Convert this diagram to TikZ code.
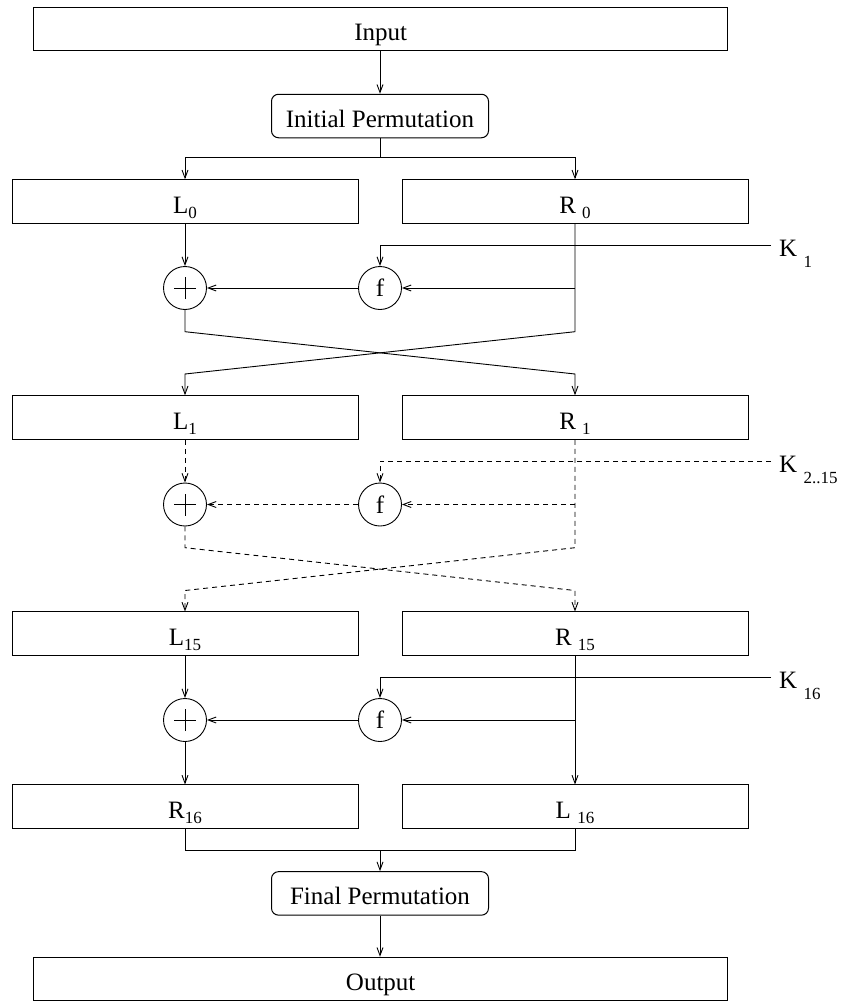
\documentclass[tikz,border=0pt]{standalone}
\usepackage{fontspec}
\setmainfont{Liberation Serif}
\usetikzlibrary{arrows.meta}
% lowered indices: box labels and round keys
\newcommand\lo[1]{\raisebox{-5pt}{\fontsize{17}{17}\selectfont #1}}
\newcommand\klo[1]{\raisebox{-11pt}{\fontsize{17}{17}\selectfont #1}}
\begin{document}
\begin{tikzpicture}[x=1pt,y=-1pt,
  font=\fontsize{25}{30}\selectfont,
  every node/.style={inner sep=0pt},
  wire/.style={line width=0.9pt},
  arr/.style={wire,-{Straight Barb[length=8pt,width=6pt]}},
  wide/.style={draw,line width=1pt,minimum width=694pt,minimum height=43.5pt,text height=25pt,text depth=2pt},
  perm/.style={draw,line width=1pt,rounded corners=7pt,minimum width=217pt,minimum height=43.5pt,text height=25pt,text depth=2pt},
  half/.style={draw,line width=1pt,minimum width=346pt,minimum height=43.5pt,text height=26pt,text depth=2pt},
  op/.style={draw,line width=0.9pt,circle,minimum size=43pt},
  keylab/.style={anchor=base west},
  later/.style={dash pattern=on 5pt off 4pt}
]
\useasboundingbox (0,0) rectangle (841,1001);

% input and initial permutation
\node[wide] (in) at (380.7,29) {Input};
\node[perm] (ip) at (380,116) {Initial Permutation};
\draw[arr] (ip.north |- in.south) -- (ip.north);
\coordinate (sp) at (380,157);
\draw[wire] (ip.south) -- (sp);

% round 1
\node[half] (L0) at (185,201.5) {L\lo{0}};
\node[half] (R0) at (575,201.5) {R\ \lo{0}};
\draw[arr] (sp) -| (L0.north);
\draw[arr] (sp) -| (R0.north);
\node[op] (x0) at (185,288) {};
\draw[wire] ([xshift=-11pt]x0.center) -- ([xshift=11pt]x0.center)
            ([yshift=-11pt]x0.center) -- ([yshift=11pt]x0.center);
\node[op] (f0) at (380,288) {f};
\coordinate (k0e) at (771,245);
\node[keylab] (k0) at (779,256) {K\ \klo{1}};
\draw[arr] (k0e) -| (f0.north);
\draw[arr] (R0.south |- f0) -- (f0.east);
\draw[arr] (f0.west) -- (x0.east);
\draw[arr] (L0.south) -- (x0.north);
\coordinate (c0a) at (185,331.7);
\coordinate (c0b) at (575,331.7);
\coordinate (c0c) at (185,374);
\coordinate (c0d) at (575,374);

% rounds 2..15
\node[half] (L1) at (185,417.5) {L\lo{1}};
\node[half] (R1) at (575,417.5) {R\ \lo{1}};
\draw[arr] (x0.south) -- (c0a) -- (c0d) -- (R1.north);
\draw[arr] (R0.south) -- (c0b) -- (c0c) -- (L1.north);
\node[op] (x1) at (185,504.5) {};
\draw[wire] ([xshift=-11pt]x1.center) -- ([xshift=11pt]x1.center)
            ([yshift=-11pt]x1.center) -- ([yshift=11pt]x1.center);
\node[op] (f1) at (380,504.5) {f};
\coordinate (k1e) at (771,461);
\node[keylab] (k1) at (779,472) {K\ \klo{2..15}};
\draw[arr,later] (k1e) -| (f1.north);
\draw[arr,later] (R1.south |- f1) -- (f1.east);
\draw[arr,later] (f1.west) -- (x1.east);
\draw[arr,later] (L1.south) -- (x1.north);
\coordinate (c1a) at (185,547.7);
\coordinate (c1b) at (575,547.7);
\coordinate (c1c) at (185,590.5);
\coordinate (c1d) at (575,590.5);

% round 16
\node[half] (L15) at (185,633.7) {L\lo{15}};
\node[half] (R15) at (575,633.7) {R\ \lo{15}};
\draw[arr,later] (x1.south) -- (c1a) -- (c1d) -- (R15.north);
\draw[arr,later] (R1.south) -- (c1b) -- (c1c) -- (L15.north);
\node[op] (x15) at (185,720) {};
\draw[wire] ([xshift=-11pt]x15.center) -- ([xshift=11pt]x15.center)
            ([yshift=-11pt]x15.center) -- ([yshift=11pt]x15.center);
\node[op] (f15) at (380,720) {f};
\coordinate (k15e) at (771,677.3);
\node[keylab] (k15) at (779,688) {K\ \klo{16}};
\draw[arr] (k15e) -| (f15.north);
\draw[arr] (R15.south |- f15) -- (f15.east);
\draw[arr] (f15.west) -- (x15.east);
\draw[arr] (L15.south) -- (x15.north);

% swap-free output halves
\node[half] (R16) at (185,806.7) {R\lo{16}};
\node[half] (L16) at (575,806.7) {L\ \lo{16}};
\draw[arr] (x15.south) -- (R16.north);
\draw[arr] (R15.south) -- (L16.north);

% final permutation and output
\coordinate (jn) at (380,850);
\draw[wire] (R16.south) |- (jn) -| (L16.south);
\node[perm] (fp) at (380,893.4) {Final Permutation};
\draw[arr] (jn) -- (fp.north);
\node[wide] (out) at (380.7,979) {Output};
\draw[arr] (fp.south) -- (fp.south |- out.north);
\end{tikzpicture}
\end{document}
